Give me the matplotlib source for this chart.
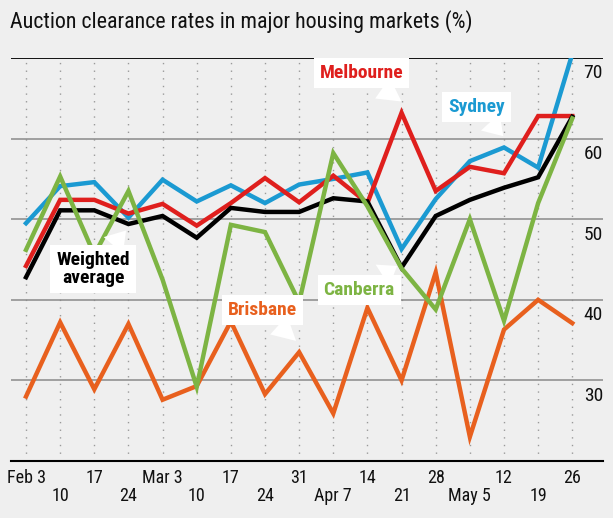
import matplotlib.pyplot as plt
from matplotlib import font_manager as fm
from matplotlib.transforms import blended_transform_factory

# pick a narrow font if there is one
fuente = 'Lato'
for f in ['Roboto Condensed', 'Liberation Sans Narrow', 'Open Sans Condensed']:
    try:
        fm.findfont(f, fallback_to_default=False)
        fuente = f
        break
    except Exception:
        pass
plt.rcParams['font.family'] = [fuente, 'DejaVu Sans']

# data
fechas = ['Feb 3', '10', '17', '24', 'Mar 3', '10', '17', '24', '31',
          'Apr 7', '14', '21', '28', 'May 5', '12', '19', '26']
sydney = [49.5, 54.1, 54.6, 50.2, 54.9, 52.2, 54.2, 52.0, 54.3,
          55.0, 55.8, 46.3, 52.5, 57.2, 58.9, 56.4, 70.5]
melbourne = [44.2, 52.4, 52.4, 50.7, 51.9, 49.2, 52.0, 55.1, 52.1,
             55.4, 52.0, 63.2, 53.5, 56.5, 55.7, 62.8, 62.8]
promedio = [42.8, 51.1, 51.1, 49.4, 50.4, 47.7, 51.4, 50.9, 50.9,
            52.6, 52.2, 44.0, 50.4, 52.4, 53.9, 55.2, 62.7]
canberra = [46.2, 55.3, 45.6, 53.5, 42.5, 29.2, 49.3, 48.4, 39.7,
            58.2, 51.6, 43.9, 38.8, 50.0, 37.4, 52.0, 62.5]
brisbane = [28.0, 37.2, 28.9, 37.0, 27.6, 29.3, 37.3, 28.3, 33.5,
            25.9, 39.0, 30.0, 43.4, 23.0, 36.3, 40.0, 37.1]
ticks_y = [30, 40, 50, 60, 70]

bg = '#efefef'
c_syd = '#1b9ad2'
c_mel = '#df1f1d'
c_can = '#7db443'
c_bri = '#e8601e'

fig = plt.figure(figsize=(6.13, 5.18), dpi=100, facecolor=bg)
ax = fig.add_axes([11/613, 57/518, 592/613, 403/518])
ax.set_facecolor(bg)

x = list(range(len(fechas)))
ax.set_xlim(-0.44, 16.9)
ax.set_ylim(20, 70)

# grid
for xi in x:
    ax.axvline(xi, color='#9a9a9a', lw=1.0, ls=(0, (1, 4.5)), zorder=1)
for yv in ticks_y[:-1]:
    ax.axhline(yv, color='#8a8a8a', lw=1.1, zorder=1)
ax.axhline(70, color='black', lw=1.3, zorder=1)

ax.plot(x, brisbane, color=c_bri, lw=3.2, zorder=3, solid_joinstyle='miter')
ax.plot(x, sydney, color=c_syd, lw=3.2, zorder=3, solid_joinstyle='miter')
ax.plot(x, melbourne, color=c_mel, lw=3.2, zorder=4, solid_joinstyle='miter')
ax.plot(x, promedio, color='black', lw=3.2, zorder=5, solid_joinstyle='miter')
ax.plot(x, canberra, color=c_can, lw=3.2, zorder=6, solid_joinstyle='miter')

for s in ['left', 'right', 'top']:
    ax.spines[s].set_visible(False)
ax.spines['bottom'].set_linewidth(1.5)
ax.tick_params(left=False, bottom=False, labelleft=False, labelbottom=False)

# x labels in two rows
for i, lab in enumerate(fechas):
    off = -12 if i % 2 == 0 else -25
    ax.annotate(lab, (i, 20), xytext=(0, off), textcoords='offset points',
                ha='center', va='center', fontsize=13, color='#111111',
                annotation_clip=False)

# y labels on the right, under each line
tr = blended_transform_factory(ax.transAxes, ax.transData)
for yv in ticks_y:
    ax.text(1.0, yv - 1.9, str(yv), transform=tr, ha='right', va='center',
            fontsize=14, color='#111111', zorder=2)

# series labels with white boxes and pointers
etiquetas = [
    ('Melbourne', c_mel, (9.82, 68.1), (11.0, 64.6)),
    ('Sydney', c_syd, (13.2, 63.9), (13.98, 60.3)),
    ('Weighted\naverage', 'black', (1.96, 43.8), (2.93, 48.6)),
    ('Canberra', c_can, (9.76, 41.2), (10.87, 44.2)),
    ('Brisbane', c_bri, (6.92, 38.7), (7.91, 34.9)),
]
for txt, col, pos, tip in etiquetas:
    ax.annotate(txt, xy=tip, xytext=pos, ha='center', va='center',
                fontsize=14, fontweight='bold', color=col, zorder=10,
                linespacing=1.0,
                bbox=dict(boxstyle='square,pad=0.3', fc='white', ec='none'),
                arrowprops=dict(arrowstyle='wedge,tail_width=1.3', fc='white',
                                ec='none', shrinkA=0, shrinkB=0))

fig.text(10/613, 1 - 22/518, 'Auction clearance rates in major housing markets (%)',
         ha='left', va='center', fontsize=15.8, color='#111111')

fig.savefig('out.png', dpi=100, facecolor=bg)
